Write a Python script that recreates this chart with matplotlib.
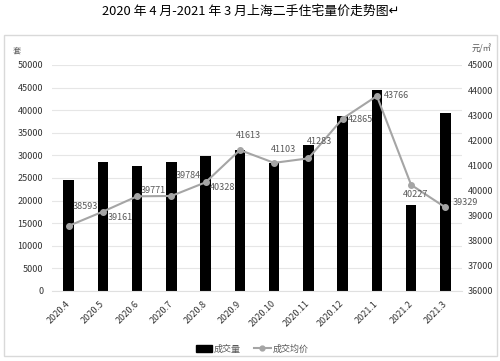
import matplotlib
matplotlib.use("Agg")
import matplotlib.pyplot as plt
from matplotlib.patches import Rectangle
from matplotlib.lines import Line2D

plt.rcParams['font.family'] = ['Noto Sans CJK SC', 'DejaVu Sans']

months = ["2020.4", "2020.5", "2020.6", "2020.7", "2020.8", "2020.9",
          "2020.10", "2020.11", "2020.12", "2021.1", "2021.2", "2021.3"]
volume = [24500, 28500, 27700, 28500, 29800, 31200, 28400, 32200, 38700, 44500, 18950, 39300]
price = [38593, 39161, 39771, 39784, 40328, 41613, 41103, 41283, 42865, 43766, 40227, 39329]
# label offsets in pixels (dx, dy; dy positive = up)
label_offsets = [(17, 19), (17, -6), (16, 6), (17, 20), (17, -5), (9, 15),
                 (9, 13), (11, 17), (18, -1), (20, 0), (4, -10), (20, 5)]

W, H = 500, 361
fig = plt.figure(figsize=(W / 100, H / 100), dpi=100)

# outer frame
fig.patches.append(Rectangle((3.5 / W, 1 - 356 / H), 493 / W, 321 / H,
                             transform=fig.transFigure, fill=False,
                             edgecolor='#d9d9d9', linewidth=1.0))

fig.text(251 / W, 1 - 11 / H, "2020 年 4 月-2021 年 3 月上海二手住宅量价走势图↵",
         ha='center', va='center', fontsize=9.3, color='#000000')

ax = fig.add_axes([51.5 / W, 1 - 291 / H, 411 / W, 226 / H])
x = list(range(len(months)))
ax.bar(x, volume, width=0.31, color='#000000', zorder=2)
ax.set_xlim(-0.5, len(months) - 0.5)
ax.set_ylim(0, 50000)
ax.set_yticks(range(0, 50001, 5000))
ax.grid(axis='y', color='#e6e6e6', linewidth=0.8, zorder=0)
for s in ax.spines.values():
    s.set_visible(False)
ax.spines['bottom'].set_visible(True)
ax.spines['bottom'].set_color('#e0e0e0')
ax.tick_params(axis='both', length=0, labelsize=6.5, colors='#333333', pad=6)
ax.set_xticks(x)
ax.set_xticklabels(months, rotation=45, ha='right', rotation_mode='anchor', va='center')
ax.tick_params(axis='x', pad=8)

ax2 = ax.twinx()
ax2.set_ylim(36000, 45000)
ax2.set_yticks(range(36000, 45001, 1000))
for s in ax2.spines.values():
    s.set_visible(False)
ax2.tick_params(axis='y', length=0, labelsize=6.5, colors='#333333', pad=4)
ax2.plot(x, price, color='#a5a5a5', linewidth=1.5, marker='o', markersize=4,
         markerfacecolor='#a5a5a5', markeredgecolor='#a5a5a5', zorder=3)
for xi, p, (dx, dy) in zip(x, price, label_offsets):
    ax2.annotate(str(p), (xi, p), xytext=(dx * 0.72, dy * 0.72), textcoords='offset points',
                 ha='center', va='center', fontsize=6.5, color='#595959')

fig.text(17 / W, 1 - 51 / H, "套", ha='center', va='center', fontsize=6, color='#595959')
fig.text(482 / W, 1 - 49 / H, "元/㎡", ha='center', va='center', fontsize=6, color='#595959')

# legend
handles = [Rectangle((0, 0), 1, 1, color='#000000'),
           Line2D([0], [0], color='#a5a5a5', marker='o', markersize=3.5, linewidth=1.5)]
fig.legend(handles, ["成交量", "成交均价"], loc='center', bbox_to_anchor=(252 / W, 1 - 349 / H),
           ncol=2, frameon=False, fontsize=6.5, labelcolor='#595959',
           handlelength=1.8, handletextpad=0.2, columnspacing=1.5)

fig.savefig("out.png", dpi=100)
